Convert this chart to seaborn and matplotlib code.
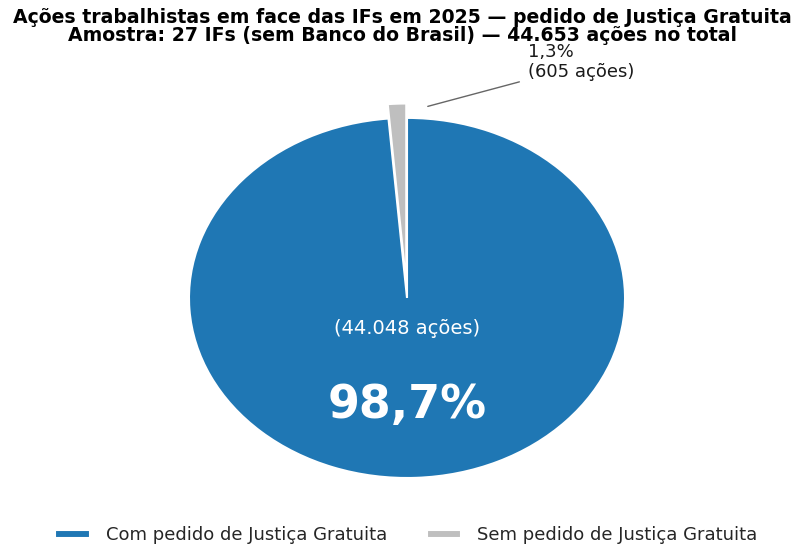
import matplotlib
matplotlib.use("Agg")
import matplotlib.pyplot as plt
import seaborn as sns

# ==== Data ====
categorias = ["Com pedido de Justiça Gratuita", "Sem pedido de Justiça Gratuita"]
acoes = [44048, 605]
rotulos_pct = ["98,7%", "1,3%"]
rotulos_acoes = ["(44.048 ações)", "(605 ações)"]
total_acoes = "44.653"

sns.set_theme(style="white")
plt.rcParams["font.family"] = ["DejaVu Sans"]

cores = ["#1f77b4", "#bfbfbf"]

fig = plt.figure(figsize=(8.05, 5.47), dpi=100)
ax = fig.add_axes([0.1806, 0.0603, 0.650, 0.790])

wedges, _ = ax.pie(
    acoes,
    colors=cores,
    startangle=90,
    counterclock=False,
    explode=[0, 0.08],
    wedgeprops=dict(edgecolor="white", linewidth=1.5),
)
ax.set_aspect("auto")
ax.set_xlim(-1.2, 1.2)
ax.set_ylim(-1.2, 1.2)
ax.axis("off")

# ==== Labels ====
ax.text(0, -0.17, rotulos_acoes[0], color="white", fontsize=14,
        ha="center", va="center")
ax.text(0, -0.6, rotulos_pct[0], color="white", fontsize=33,
        fontweight="bold", ha="center", va="center")

ax.annotate(
    f"{rotulos_pct[1]}\n{rotulos_acoes[1]}",
    xy=(0.083, 1.06), xytext=(0.555, 1.31),
    ha="left", va="center", fontsize=13, color="#1a1a1a",
    arrowprops=dict(arrowstyle="-", color="#666666", lw=1, relpos=(0, 0.05),
                    shrinkA=4, shrinkB=2),
    annotation_clip=False,
)

fig.suptitle(
    "Ações trabalhistas em face das IFs em 2025 — pedido de Justiça Gratuita\n"
    f"Amostra: 27 IFs (sem Banco do Brasil) — {total_acoes} ações no total",
    fontsize=13.6, fontweight="bold", y=0.985, linespacing=0.95, color="black",
)

fig.legend(
    wedges, categorias, loc="lower center", ncol=2, frameon=False,
    fontsize=13, bbox_to_anchor=(0.505, -0.025), columnspacing=2.2,
    handlelength=1.9, handleheight=0.35, handletextpad=0.9,
)

fig.savefig("out.png", dpi=100)
